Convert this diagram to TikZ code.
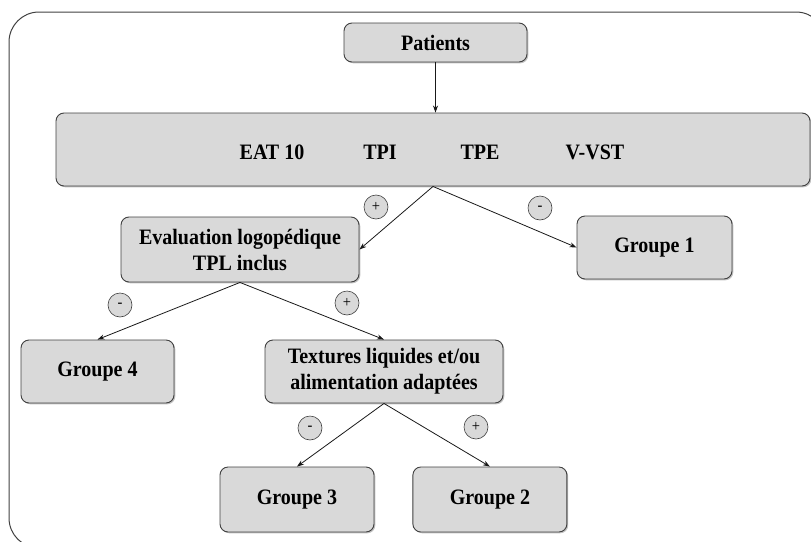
\documentclass[tikz,border=0pt]{standalone}
\usepackage{fontspec}
\setmainfont{Liberation Serif}[FakeStretch=0.91]
\usetikzlibrary{shapes, positioning, calc, arrows.meta, shadows}
\colorlet{boxgray}{gray!30}
\colorlet{linegray}{black!75}

\begin{document}
\begin{tikzpicture}[x=1pt, y=-1pt,
    box/.style={rectangle,
      rounded corners=8pt,
      draw=linegray,
      line width=0.9pt,
      fill=boxgray,
      drop shadow={shadow xshift=1.3pt, shadow yshift=-1.3pt, fill=black!40, opacity=0.6},
      align=center,
      inner sep=0pt,
      font=\fontsize{22}{26}\selectfont\bfseries},
    testlabel/.style={font=\fontsize{22}{26}\selectfont\bfseries},
    sign/.style={circle,
      draw=linegray,
      fill=boxgray,
      line width=0.6pt,
      minimum size=24pt,
      inner sep=0pt,
      font=\fontsize{16}{16}\selectfont},
    link/.style={-{Stealth[length=7pt, width=5pt]}, line width=0.8pt, draw=black!90}]
  \useasboundingbox (0,0) rectangle (811,541);

  % FRAME

  \draw[linegray, line width=1pt, rounded corners=30pt] (9,12) rectangle (826,548);

  % BOXES

  \node[box, minimum width=183pt, minimum height=39pt] (patients) at (435.5,42.5) {Patients};

  \node[box, minimum width=754pt, minimum height=73pt] (tests) at (433,149.5) {};
  \node[testlabel] (eat) at (272,152) {EAT 10};
  \node[testlabel] (tpi) at (380,152) {TPI};
  \node[testlabel] (tpe) at (480,152) {TPE};
  \node[testlabel] (vvst) at (595,152) {V-VST};

  \node[box, minimum width=238pt, minimum height=65pt] (eval) at (240,249.5) {
    Evaluation logopédique\\TPL inclus
  };

  \node[box, minimum width=155pt, minimum height=63pt] (groupe1) at (654.5,247.5) {Groupe 1};

  \node[box, minimum width=153pt, minimum height=63pt] (groupe4) at (97.5,371.5) {Groupe 4};

  \node[box, minimum width=238pt, minimum height=63pt] (textures) at (384,371.5) {
    Textures liquides et/ou\\alimentation adaptées
  };

  \node[box, minimum width=154pt, minimum height=65pt] (groupe3) at (297,499.5) {Groupe 3};

  \node[box, minimum width=154pt, minimum height=65pt,
    right=38pt of groupe3] (groupe2) {Groupe 2};

  % LINKS

  \draw[link] (patients) -- (patients |- tests.north);
  \draw[link] (tests.south) -- (eval.east);
  \draw[link] (tests.south) -- (groupe1.west);
  \draw[link] (eval.south) -- (groupe4.north);
  \draw[link] (eval.south) -- (textures.north);
  \draw[link] (textures.south) -- (groupe3.north);
  \draw[link] (textures.south) -- (groupe2.north);

  % SIGNS

  \node[sign] (plusone) at (376,207) {+};
  \node[sign] (minusone) at (540,208) {-};
  \node[sign] (minustwo) at (120,305) {-};
  \node[sign] (plustwo) at (347,303) {+};
  \node[sign] (minusthree) at (310,428) {-};
  \node[sign] (plusthree) at (476,427) {+};

\end{tikzpicture}
\end{document}
